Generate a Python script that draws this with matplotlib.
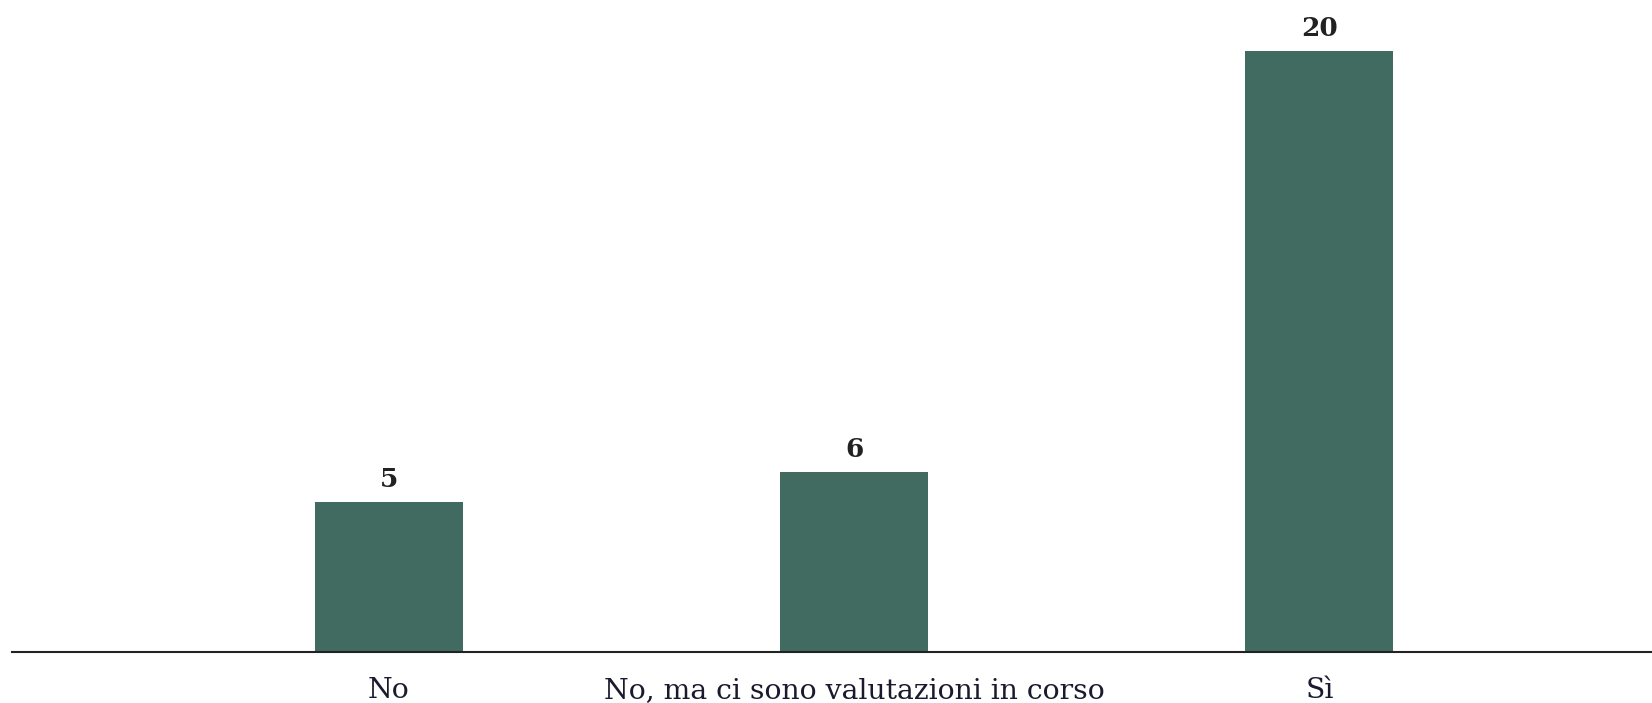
import numpy as np
import matplotlib
matplotlib.use('Agg')
import matplotlib.pyplot as plt

# data
categories = ['No', 'No, ma ci sono valutazioni in corso', 'Sì']
values = [5, 6, 20]

bar_color = '#416b61'

plt.rcParams['font.family'] = ['DejaVu Serif']

W, H = 1652, 703
fig = plt.figure(figsize=(W / 100, H / 100), dpi=100)
ax = fig.add_axes([12 / W, 51 / H, 1 - 12 / W, 631 / H])

x = np.arange(len(categories))
bars = ax.bar(x, values, width=0.318, color=bar_color)
ax.bar_label(bars, labels=[str(v) for v in values], padding=7,
             fontsize=19, fontweight='bold', color='#222222')

ax.set_xlim(-0.81, 2.715)
ax.set_ylim(0, 21)
ax.set_xticks(x)
ax.set_xticklabels(categories, fontsize=20.3, color='#1a1a2e')
ax.tick_params(axis='x', length=0, pad=18)
ax.set_yticks([])
for s in ['top', 'right', 'left']:
    ax.spines[s].set_visible(False)
ax.spines['bottom'].set_linewidth(1.5)
ax.spines['bottom'].set_color('#222222')

fig.savefig('out.png', dpi=100)
